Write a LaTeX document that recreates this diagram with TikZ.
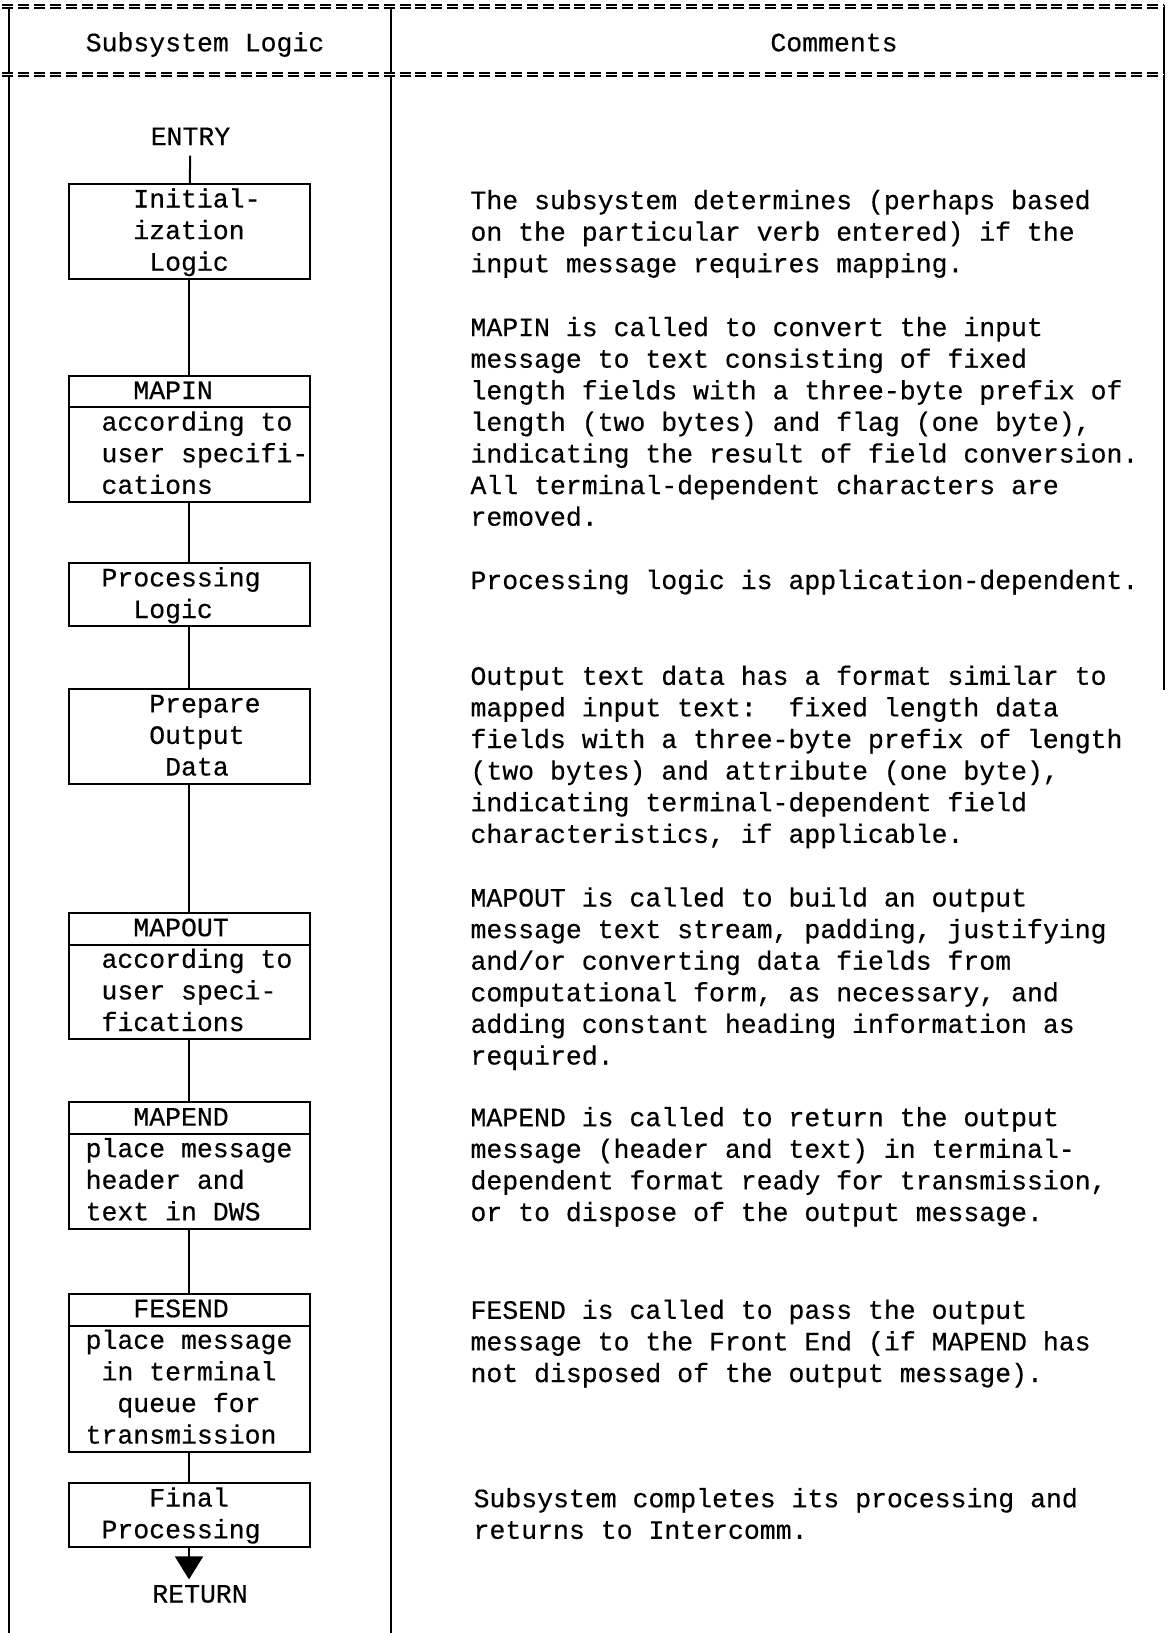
\documentclass[tikz,border=0pt]{standalone}
\usepackage{fontspec}
\newfontfamily\typefont{Liberation Mono}[FakeBold=0.4]
\usetikzlibrary{positioning}
\usetikzlibrary{arrows.meta}

\newcommand{\tpad}{\phantom{x}}
\newcommand{\tstrut}{\rule[-8.4pt]{0pt}{31.6pt}}
\newcommand{\fb}[1]{\tstrut#1\tstrut}

\tikzset{
  tw/.style={font=\fontsize{26.5}{31.6}\selectfont\typefont\frenchspacing},
  frame/.style={line width=2pt},
  eqline/.style={line width=1.4pt,double,double distance=1.8pt,dash pattern=on 11pt off 4.9pt},
  flowbox/.style={tw,draw,line width=2pt,minimum width=241pt,inner sep=0pt,outer sep=0pt,align=center},
  lbl/.style={tw,inner sep=0pt,execute at begin node=\strut},
  cmt/.style={tw,anchor=north west,align=left,inner sep=0pt}
}

\begin{document}
\begin{tikzpicture}[x=1pt,y=-1pt,line width=2pt]
\useasboundingbox (0,0) rectangle (1168,1633);

\draw[frame] (9.4,5) -- (9.4,1633);
\draw[frame] (391,5) -- (391,1633);
\draw[frame] (1164,5) -- (1164,690);
\draw[eqline] (2,6.5) -- (1164,6.5);
\draw[eqline] (2,74.5) -- (1164,74.5);
\node[lbl] (hdrlogic) at (205,45) {Subsystem Logic};
\node[lbl] (hdrcomments) at (834,45) {Comments};

% flow chart
\node[lbl] (entry) at (190.5,138.8) {ENTRY};
\node[flowbox,anchor=north] (init) at (189,184.3) {\fb{\tpad Initial-\\ization\\Logic}};
\node[flowbox,below=96.7pt of init] (mapinhdr) {\fb{MAPIN\tpad\tpad}};
\node[flowbox,below=0pt of mapinhdr] (mapin) {\fb{\tpad according to\\\tpad\tpad user specifi-\\cations\tpad\tpad\tpad\tpad}};
\node[flowbox,below=61pt of mapin] (proc) {\fb{Processing\tpad\\Logic\tpad\tpad}};
\node[flowbox,below=62.7pt of proc] (prep) {\fb{\tpad\tpad Prepare\\\tpad Output\\\tpad Data}};
\node[flowbox,below=129.1pt of prep] (mapouthdr) {\fb{MAPOUT\tpad}};
\node[flowbox,below=0pt of mapouthdr] (mapout) {\fb{\tpad according to\\user speci-\\fications\tpad\tpad}};
\node[flowbox,below=63pt of mapout] (mapendhdr) {\fb{MAPEND\tpad}};
\node[flowbox,below=0pt of mapendhdr] (mapend) {\fb{place message\\header and\tpad\tpad\tpad\\text in DWS\tpad\tpad}};
\node[flowbox,below=65.2pt of mapend] (fesendhdr) {\fb{FESEND\tpad}};
\node[flowbox,below=0pt of fesendhdr] (fesend) {\fb{place message\\in terminal\\queue for\\transmission\tpad}};
\node[flowbox,below=31.4pt of fesend] (final) {\fb{Final\\Processing\tpad}};
\node[lbl] (ret) at (200,1596.2) {RETURN};

\draw (entry) -- (init);
\draw (init) -- (mapinhdr);
\draw (mapin) -- (proc);
\draw (proc) -- (prep);
\draw (prep) -- (mapouthdr);
\draw (mapout) -- (mapendhdr);
\draw (mapend) -- (fesendhdr);
\draw (fesend) -- (final);
\draw[-{Triangle[width=28pt,length=23pt]}] (final) -- (final.south |- ret.north);

% comments
\node[cmt] (c1) at (469.5,184.9) {\tstrut The subsystem determines (perhaps based\\on the particular verb entered) if the\\input message requires mapping.};
\node[cmt] (c2) at (469.5,311.9) {\tstrut MAPIN is called to convert the input\\message to text consisting of fixed\\length fields with a three-byte prefix of\\length (two bytes) and flag (one byte),\\indicating the result of field conversion.\\All terminal-dependent characters are\\removed.};
\node[cmt] (c3) at (469.5,564.8) {\tstrut Processing logic is application-dependent.};
\node[cmt] (c4) at (469.5,660.6) {\tstrut Output text data has a format similar to\\mapped input text: \ fixed length data\\fields with a three-byte prefix of length\\(two bytes) and attribute (one byte),\\indicating terminal-dependent field\\characteristics, if applicable.};
\node[cmt] (c5) at (469.5,882.3) {\tstrut MAPOUT is called to build an output\\message text stream, padding, justifying\\and/or converting data fields from\\computational form, as necessary, and\\adding constant heading information as\\required.};
\node[cmt] (c6) at (469.5,1102) {\tstrut MAPEND is called to return the output\\message (header and text) in terminal-\\dependent format ready for transmission,\\or to dispose of the output message.};
\node[cmt] (c7) at (469.5,1294.6) {\tstrut FESEND is called to pass the output\\message to the Front End (if MAPEND has\\not disposed of the output message).};
\node[cmt] (c8) at (472.6,1483) {\tstrut Subsystem completes its processing and\\returns to Intercomm.};

\end{tikzpicture}
\end{document}
